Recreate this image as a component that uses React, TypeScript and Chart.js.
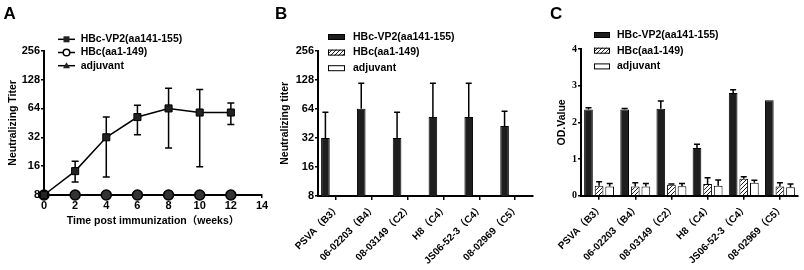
import React, { useEffect, useRef } from "react";
import { Chart, registerables } from "chart.js";

Chart.register(...registerables);
Chart.defaults.color = "#000";

const SANS = "'Liberation Sans', Arial, 'Noto Sans CJK SC', sans-serif";
const SERIF = "'Liberation Serif', 'Times New Roman', serif";

// ---------- Data ----------
const seriesNames = ["HBc-VP2(aa141-155)", "HBc(aa1-149)", "adjuvant"];

// Panel A
const weeks = [0, 2, 4, 6, 8, 10, 12];
const titerVP2 = [8, 14.2, 32, 52, 64, 58, 58];
const titerVP2Upper = [8, 18, 52, 69, 104, 101, 73];
const titerVP2Lower = [8, 10.9, 12.3, 34, 24.7, 15.8, 43.5];
const titerHBc = [8, 8, 8, 8, 8, 8, 8];
const titerAdjuvant = [8, 8, 8, 8, 8, 8, 8];
const titerTicks = [8, 16, 32, 64, 128, 256];
const weekMin = 0;
const weekMax = 14;
const weekStep = 2;

// Panel B
const strains = ["PSVA（B3）", "06-02203（B4）", "08-03149（C2）", "H8（C4）", "JS06-52-3（C4）", "08-02969（C5）"];
const strainTiterVP2 = [32, 64, 32, 52.7, 52.7, 42.5];
const strainTiterVP2Upper = [59, 118, 59, 118, 118, 60.5];
const strainTiterHBc = [8, 8, 8, 8, 8, 8];
const strainTiterAdjuvant = [8, 8, 8, 8, 8, 8];

// Panel C
const odVP2 = [2.35, 2.35, 2.37, 1.3, 2.8, 2.6];
const odVP2Sd = [0.05, 0.03, 0.21, 0.1, 0.09, 0];
const odHBc = [0.27, 0.25, 0.3, 0.32, 0.46, 0.25];
const odHBcSd = [0.11, 0.1, 0.02, 0.17, 0.06, 0.1];
const odAdjuvant = [0.25, 0.25, 0.26, 0.27, 0.35, 0.23];
const odAdjuvantSd = [0.08, 0.08, 0.07, 0.16, 0.07, 0.09];
const odMin = 0;
const odMax = 4;

// ---------- Plugins ----------
const errorBarsPlugin = {
  id: "errorBars",
  beforeDatasetsDraw(chart: any) {
    const ctx = chart.ctx;
    const yScale = chart.scales.y;
    chart.data.datasets.forEach((ds: any, di: number) => {
      if (!ds.errUpper && !ds.errSd) return;
      const meta = chart.getDatasetMeta(di);
      ctx.save();
      ctx.strokeStyle = "#000";
      ctx.lineWidth = ds.errWidth ?? 1.5;
      const cap = ds.errCap ?? 3;
      meta.data.forEach((el: any, i: number) => {
        const raw = ds.data[i];
        const v = typeof raw === "object" ? raw.y : raw;
        let hi: number;
        let lo: number;
        if (ds.errSd) {
          if (!ds.errSd[i]) return;
          hi = v + ds.errSd[i];
          lo = v;
        } else {
          hi = ds.errUpper[i];
          lo = ds.errLower ? ds.errLower[i] : v;
        }
        if (hi === v && lo === v) return;
        const x = el.x;
        const yh = yScale.getPixelForValue(hi);
        const yl = yScale.getPixelForValue(lo);
        ctx.beginPath();
        ctx.moveTo(x, yl);
        ctx.lineTo(x, yh);
        ctx.moveTo(x - cap, yh);
        ctx.lineTo(x + cap, yh);
        if (ds.errLower) {
          ctx.moveTo(x - cap, yl);
          ctx.lineTo(x + cap, yl);
        }
        ctx.stroke();
      });
      ctx.restore();
    });
  },
};

function drawMarker(ctx: CanvasRenderingContext2D, style: string, x: number, y: number) {
  ctx.save();
  ctx.lineWidth = 1.5;
  ctx.strokeStyle = "#000";
  ctx.fillStyle = "#222";
  if (style === "rect") {
    ctx.fillRect(x - 3, y - 3, 6, 6);
  } else if (style === "circle") {
    ctx.fillStyle = "#fff";
    ctx.beginPath();
    ctx.arc(x, y, 3.3, 0, Math.PI * 2);
    ctx.fill();
    ctx.stroke();
  } else if (style === "triangle") {
    ctx.beginPath();
    ctx.moveTo(x, y - 3.5);
    ctx.lineTo(x + 3.5, y + 2.5);
    ctx.lineTo(x - 3.5, y + 2.5);
    ctx.closePath();
    ctx.fill();
  }
  ctx.restore();
}

const panelDecoPlugin = {
  id: "panelDeco",
  afterDraw(chart: any, _args: any, opts: any) {
    const { ctx, chartArea } = chart;
    ctx.save();
    ctx.fillStyle = "#000";
    ctx.font = `bold 17px ${SANS}`;
    ctx.textBaseline = "alphabetic";
    ctx.textAlign = "left";
    ctx.fillText(opts.letter, opts.letterX, opts.letterY);
    ctx.font = `bold 10.5px ${SANS}`;
    ctx.textBaseline = "middle";
    chart.data.datasets.forEach((ds: any, i: number) => {
      const y = opts.legendTop + i * opts.rowGap;
      const x0 = chartArea.left + opts.iconX;
      if (opts.kind === "line") {
        ctx.strokeStyle = "#000";
        ctx.lineWidth = 1.5;
        ctx.beginPath();
        ctx.moveTo(x0, y);
        ctx.lineTo(x0 + opts.iconW, y);
        ctx.stroke();
        drawMarker(ctx, ds.pointStyle, x0 + opts.iconW / 2, y);
      } else {
        const h = opts.iconH;
        ctx.fillStyle = ds.backgroundColor;
        ctx.fillRect(x0, y - h / 2, opts.iconW, h);
        ctx.strokeStyle = "#000";
        ctx.lineWidth = 1;
        ctx.strokeRect(x0 + 0.5, y - h / 2 + 0.5, opts.iconW - 1, h - 1);
      }
      ctx.fillStyle = "#000";
      ctx.fillText(ds.label, chartArea.left + opts.textX, y);
    });
    ctx.restore();
  },
};

function makeHatch(): any {
  const c = document.createElement("canvas");
  c.width = 4;
  c.height = 4;
  const g = c.getContext("2d")!;
  g.fillStyle = "#fff";
  g.fillRect(0, 0, 4, 4);
  g.strokeStyle = "#222";
  g.lineWidth = 1;
  g.beginPath();
  g.moveTo(0, 4);
  g.lineTo(4, 0);
  g.moveTo(-1, 1);
  g.lineTo(1, -1);
  g.moveTo(3, 5);
  g.lineTo(5, 3);
  g.stroke();
  return g.createPattern(c, "repeat");
}

// ---------- Shared axis pieces ----------
const axisGrid = { display: true, drawOnChartArea: false, drawTicks: true, tickLength: 4, color: "#000", lineWidth: 1.5 };
const axisBorder = { display: true, color: "#000", width: 2 };
const tickFont = { family: SANS, size: 11, weight: "bold" as const };
const catFont = { family: SANS, size: 10, weight: "bold" as const };
const titleFont = { family: SANS, size: 10.5, weight: "bold" as const };

function configA(): any {
  const pts = (arr: number[]) => weeks.map((w, i) => ({ x: w, y: arr[i] }));
  return {
    type: "line",
    data: {
      datasets: [
        {
          label: seriesNames[0], data: pts(titerVP2), errUpper: titerVP2Upper, errLower: titerVP2Lower, errCap: 3.5,
          borderColor: "#000", borderWidth: 1.5, pointStyle: "rect", pointRadius: 5,
          pointBackgroundColor: "#222", pointBorderColor: "#000", pointBorderWidth: 1, clip: false,
        },
        {
          label: seriesNames[1], data: pts(titerHBc), borderColor: "#000", borderWidth: 1.5,
          pointStyle: "circle", pointRadius: 5, pointBackgroundColor: "#333", pointBorderColor: "#000",
          pointBorderWidth: 1.5, clip: false,
        },
        {
          label: seriesNames[2], data: pts(titerAdjuvant), borderColor: "#000", borderWidth: 1.5,
          pointStyle: "triangle", pointRadius: 4, pointBackgroundColor: "#222", pointBorderColor: "#000", clip: false,
        },
      ],
    },
    options: {
      responsive: false,
      animation: false,
      layout: { padding: { left: 0, top: 50.7, right: 8, bottom: 0 } },
      plugins: {
        legend: { display: false },
        tooltip: { enabled: false },
        panelDeco: { letter: "A", letterX: 3.5, letterY: 18.5, kind: "line", legendTop: 39.3, rowGap: 13.2, iconX: 14, iconW: 17, textX: 36.7 },
      },
      scales: {
        x: {
          type: "linear", min: weekMin, max: weekMax,
          grid: { ...axisGrid, tickLength: 3 }, border: axisBorder,
          ticks: { stepSize: weekStep, font: tickFont, padding: 1, color: "#000" },
          title: { display: true, text: "Time post immunization（weeks）", font: titleFont, color: "#000", padding: { top: 0, bottom: 43 } },
          afterFit: (s: any) => { s.height = 75; },
        },
        y: {
          type: "logarithmic", min: titerTicks[0], max: titerTicks[titerTicks.length - 1],
          grid: { ...axisGrid, tickLength: 3 }, border: axisBorder,
          afterBuildTicks: (s: any) => { s.ticks = titerTicks.map((v) => ({ value: v })); },
          ticks: { font: tickFont, padding: 1, color: "#000", callback: (v: any) => String(v) },
          title: { display: true, text: "Neutralizing Titer", font: titleFont, color: "#000", padding: { top: 6.5, bottom: 0 } },
          afterFit: (s: any) => { s.width = 44; },
        },
      },
    },
    plugins: [errorBarsPlugin, panelDecoPlugin],
  };
}

function barSets(hatch: any, v1: number[], v2: number[], v3: number[], extra: any[]) {
  const common = { borderColor: "#000", borderWidth: 1, categoryPercentage: 0.88, barPercentage: 0.82 };
  return [
    { label: seriesNames[0], data: v1, backgroundColor: "#1e1e1e", ...common, ...extra[0] },
    { label: seriesNames[1], data: v2, backgroundColor: hatch, ...common, ...extra[1] },
    { label: seriesNames[2], data: v3, backgroundColor: "#ffffff", ...common, ...extra[2] },
  ];
}

function catAxis(height: number) {
  return {
    type: "category",
    grid: { ...axisGrid, offset: false }, border: axisBorder,
    ticks: { font: catFont, color: "#000", minRotation: 45, maxRotation: 45, autoSkip: false, padding: 2, labelOffset: 3 },
    afterFit: (s: any) => { s.height = height; },
  };
}

function configB(hatch: any): any {
  return {
    type: "bar",
    data: {
      labels: strains,
      datasets: barSets(hatch, strainTiterVP2, strainTiterHBc, strainTiterAdjuvant, [
        { errUpper: strainTiterVP2Upper, errCap: 3 }, {}, {},
      ]),
    },
    options: {
      responsive: false,
      animation: false,
      layout: { padding: { left: 0, top: 50.7, right: 7, bottom: 0 } },
      plugins: {
        legend: { display: false },
        tooltip: { enabled: false },
        panelDeco: { letter: "B", letterX: 5, letterY: 18.5, kind: "box", legendTop: 37, rowGap: 15.6, iconX: 10, iconW: 17, iconH: 6, textX: 35 },
      },
      scales: {
        x: catAxis(74),
        y: {
          type: "logarithmic", min: titerTicks[0], max: titerTicks[titerTicks.length - 1],
          grid: { ...axisGrid, tickLength: 3 }, border: axisBorder,
          afterBuildTicks: (s: any) => { s.ticks = titerTicks.map((v) => ({ value: v })); },
          ticks: { font: tickFont, padding: 1, color: "#000", callback: (v: any) => String(v) },
          title: { display: true, text: "Neutralizing titer", font: titleFont, color: "#000", padding: { top: 8.7, bottom: 0 } },
          afterFit: (s: any) => { s.width = 48; },
        },
      },
    },
    plugins: [errorBarsPlugin, panelDecoPlugin],
  };
}

function configC(hatch: any): any {
  return {
    type: "bar",
    data: {
      labels: strains,
      datasets: barSets(hatch, odVP2, odHBc, odAdjuvant, [
        { errSd: odVP2Sd, errCap: 3 }, { errSd: odHBcSd, errCap: 3 }, { errSd: odAdjuvantSd, errCap: 3 },
      ]),
    },
    options: {
      responsive: false,
      animation: false,
      layout: { padding: { left: 0, top: 49, right: 6, bottom: 0 } },
      plugins: {
        legend: { display: false },
        tooltip: { enabled: false },
        panelDeco: { letter: "C", letterX: 20, letterY: 18.5, kind: "box", legendTop: 35, rowGap: 15.7, iconX: 13, iconW: 16, iconH: 6, textX: 36 },
      },
      scales: {
        x: catAxis(74.3),
        y: {
          type: "linear", min: odMin, max: odMax,
          grid: { ...axisGrid, tickLength: 3 }, border: axisBorder,
          ticks: { stepSize: 1, font: { family: SERIF, size: 10, weight: "bold" }, padding: 1, color: "#000" },
          title: { display: true, text: "OD.Value", font: titleFont, color: "#000", padding: { top: 25.7, bottom: 0 } },
          afterFit: (s: any) => { s.width = 51; },
        },
      },
    },
    plugins: [errorBarsPlugin, panelDecoPlugin],
  };
}

function Panel({ left, width, build }: { left: number; width: number; build: () => any }) {
  const ref = useRef<HTMLCanvasElement>(null);
  useEffect(() => {
    const chart = new Chart(ref.current!, build());
    return () => chart.destroy();
  }, []);
  return (
    <canvas
      ref={ref}
      width={width}
      height={270}
      style={{ position: "absolute", left, top: 0, width, height: 270 }}
    />
  );
}

export default function App() {
  const hatchRef = useRef<any>(null);
  if (!hatchRef.current && typeof document !== "undefined") hatchRef.current = makeHatch();
  const hatch = hatchRef.current;
  return (
    <div style={{ position: "absolute", left: 0, top: 0, width: 804, height: 270, background: "#fff", overflow: "hidden" }}>
      <Panel left={0} width={270} build={configA} />
      <Panel left={270} width={270} build={() => configB(hatch)} />
      <Panel left={530} width={274} build={() => configC(hatch)} />
    </div>
  );
}
